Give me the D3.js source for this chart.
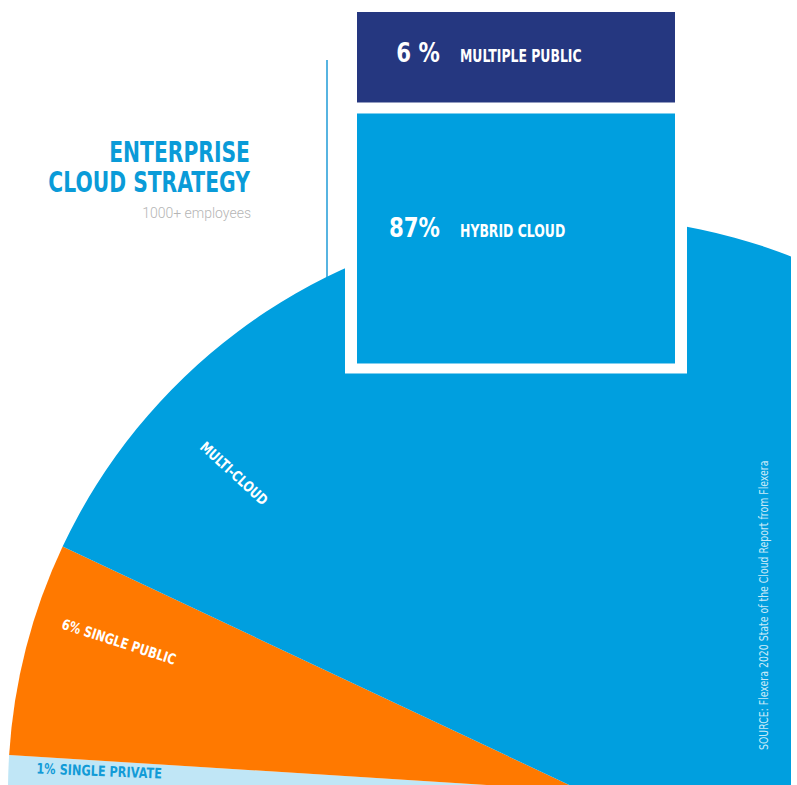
<!DOCTYPE html>
<html>
<head>
<meta charset="utf-8">
<script src="https://cdn.jsdelivr.net/npm/d3@7"></script>
<style>
	body { margin: 0; background: #fff; }
	svg { display: block; }
	.cond { font-family: 'DejaVu Sans', sans-serif; font-weight: bold; }
</style>
</head>
<body>
<script>
var width = 797,
	height = 785;

// pie slices (share of enterprises)
var sliceNames = ['SINGLE PRIVATE', 'SINGLE PUBLIC', 'MULTI-CLOUD'];
var sliceValues = [1, 6, 93];
var sliceLabels = ['1% SINGLE PRIVATE', '6% SINGLE PUBLIC', 'MULTI-CLOUD'];

// multi-cloud breakdown boxes
var boxNames = ['MULTIPLE PUBLIC', 'HYBRID CLOUD'];
var boxValues = [6, 87];
var boxPctLabels = ['6 %', '87%'];

var titleLines = ['ENTERPRISE', 'CLOUD STRATEGY'];

var colors = {
	'SINGLE PRIVATE': '#c0e6f6',
	'SINGLE PUBLIC': '#ff7900',
	'MULTI-CLOUD': '#009fdf',
	'MULTIPLE PUBLIC': '#253780',
	'HYBRID CLOUD': '#009fdf'
};

// no condensed face installed, so squeeze glyphs horizontally
function squeeze(sel, f) {
	sel.each(function() {
		var n = this.getComputedTextLength();
		d3.select(this)
			.attr('textLength', n * f)
			.attr('lengthAdjust', 'spacingAndGlyphs');
	});
}

var svg = d3.select('body').append('svg')
	.attr('width', width)
	.attr('height', height);

svg.append('defs').append('clipPath')
	.attr('id', 'frame')
	.append('rect')
	.attr('width', 791)
	.attr('height', height);

// connector line behind the pie
svg.append('line')
	.attr('x1', 327).attr('x2', 327)
	.attr('y1', 60).attr('y2', 300)
	.attr('stroke', '#1f9bd7')
	.attr('stroke-width', 1.5);

var radius = 574;
var pieG = svg.append('g')
	.attr('clip-path', 'url(#frame)')
	.append('g')
	.attr('transform', 'translate(582,791)');

var slices = sliceNames.map(function(n, i) {
	return { name: n, value: sliceValues[i], label: sliceLabels[i] };
});

var pie = d3.pie()
	.sort(null)
	.value(function(d) { return d.value; })
	.startAngle(-Math.PI / 2)
	.endAngle(Math.PI * 1.5);

var arc = d3.arc().innerRadius(0).outerRadius(radius);
var arcs = pie(slices);

pieG.selectAll('.slice')
	.data(arcs)
	.enter().append('path')
	.attr('class', 'slice')
	.attr('d', arc)
	.attr('fill', function(d) { return colors[d.data.name]; });

// radial labels reading toward the centre
function labelAngle(d) {
	if (d.data.name === 'MULTI-CLOUD') return d.startAngle + 0.3;
	return d.startAngle + (d.endAngle - d.startAngle) * 0.66;
}
function labelRadius(d) {
	return d.data.name === 'MULTI-CLOUD' ? radius - 60 : radius - 28;
}

pieG.selectAll('.slice-label')
	.data(arcs)
	.enter().append('text')
	.attr('class', 'slice-label cond')
	.attr('transform', function(d) {
		var a = labelAngle(d), r = labelRadius(d);
		return 'translate(' + (r * Math.sin(a)) + ',' + (-r * Math.cos(a)) + ') rotate(' + (a * 180 / Math.PI + 90) + ')';
	})
	.attr('dy', '0.35em')
	.attr('font-size', 14.5)
	.attr('fill', function(d) { return d.data.name === 'SINGLE PRIVATE' ? '#129bd7' : '#fff'; })
	.text(function(d) { return d.data.label; })
	.call(squeeze, 0.78);

// breakdown boxes stacked from the top
var boxes = boxNames.map(function(n, i) {
	return { name: n, value: boxValues[i], pct: boxPctLabels[i] };
});

var hScale = d3.scalePow().exponent(0.38)
	.domain([0, d3.max(boxValues)])
	.range([0, 250]);

var boxX = 357, boxW = 318, gap = 11, boxTop = 12;
var yPos = boxTop;
boxes.forEach(function(b) {
	b.y = yPos;
	b.h = hScale(b.value);
	yPos += b.h + gap;
});

// white frame round the last box where it sits on the pie
var last = boxes[boxes.length - 1];
svg.append('rect')
	.attr('x', boxX - 12)
	.attr('y', last.y - 12)
	.attr('width', boxW + 24)
	.attr('height', last.h + 22)
	.attr('fill', '#fff');

var boxG = svg.selectAll('.box')
	.data(boxes)
	.enter().append('g')
	.attr('class', 'box');

boxG.append('rect')
	.attr('x', boxX)
	.attr('y', function(d) { return d.y; })
	.attr('width', boxW)
	.attr('height', function(d) { return d.h; })
	.attr('fill', function(d) { return colors[d.name]; });

function boxTextY(d) {
	return d.y + d.h / 2 + (d.h < 120 ? 5 : -1);
}

boxG.append('text')
	.attr('class', 'cond')
	.attr('x', 440)
	.attr('y', boxTextY)
	.attr('text-anchor', 'end')
	.attr('font-size', 26)
	.attr('fill', '#fff')
	.text(function(d) { return d.pct; })
	.call(squeeze, 0.82);

boxG.append('text')
	.attr('class', 'cond')
	.attr('x', 460)
	.attr('y', boxTextY)
	.attr('font-size', 18)
	.attr('fill', '#fff')
	.text(function(d) { return d.name; })
	.call(squeeze, 0.69);

// title, two lines in one text element
var title = svg.append('text')
	.attr('class', 'cond')
	.attr('text-anchor', 'end')
	.attr('font-size', 29)
	.attr('fill', '#0a9bd8');

title.selectAll('tspan')
	.data(titleLines)
	.enter().append('tspan')
	.attr('x', 250)
	.attr('y', function(d, i) { return 162 + i * 30; })
	.text(function(d) { return d; })
	.call(squeeze, 0.7);

svg.append('text')
	.attr('x', 251)
	.attr('y', 218)
	.attr('text-anchor', 'end')
	.attr('font-family', 'Roboto, sans-serif')
	.attr('font-weight', 300)
	.attr('font-size', 14)
	.attr('fill', '#b5b5b5')
	.text('1000+ employees');

// source note, vertical
svg.append('text')
	.attr('transform', 'translate(768,750) rotate(-90)')
	.attr('font-family', "'DejaVu Sans', sans-serif")
	.attr('font-size', 12)
	.attr('fill', 'rgba(255,255,255,0.8)')
	.text('SOURCE: Flexera 2020 State of the Cloud Report from Flexera')
	.call(squeeze, 0.78);
</script>
</body>
</html>
